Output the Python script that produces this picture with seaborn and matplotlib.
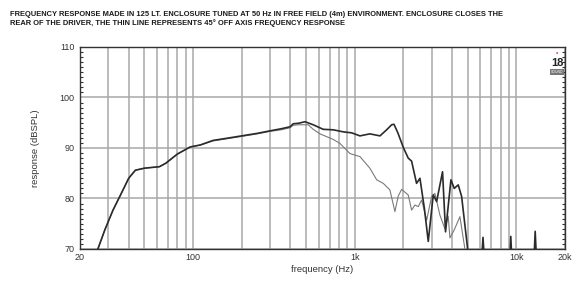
import numpy as np
import pandas as pd
import matplotlib
matplotlib.use("Agg")
import matplotlib.pyplot as plt
import seaborn as sns
from matplotlib.ticker import FixedLocator, MultipleLocator, NullFormatter

# ---- data ----
on_axis_freq = [24, 25.8, 28.5, 32, 36, 40, 44, 50, 62, 68, 80, 96, 111, 133, 160, 200, 250, 300,
                350, 398, 417, 450, 493, 554, 639, 737, 850, 958, 1078, 1242, 1434, 1576, 1694,
                1750, 1850, 2000, 2144, 2250, 2414, 2534, 2700, 2852, 3062, 3214, 3288, 3496,
                3648, 3940, 4130, 4372, 4588, 4998, 5200, 6000, 6220, 6450, 9000, 9240, 9500,
                12700, 13080, 13500, 20000]
on_axis_spl = [67, 70, 73.8, 77.7, 81.0, 84.0, 85.6, 86.0, 86.3, 87.0, 88.8, 90.2, 90.6, 91.5, 91.9,
               92.4, 92.9, 93.4, 93.8, 94.2, 94.8, 94.9, 95.2, 94.6, 93.7, 93.6, 93.2, 93.0, 92.4,
               92.8, 92.4, 93.6, 94.6, 94.7, 93.0, 90.1, 88.0, 87.4, 83.0, 84.0, 78.0, 71.5, 80.7,
               79.4, 81.0, 85.3, 73.4, 83.7, 82.0, 82.7, 80.4, 70.0, 64, 64, 72.3, 64, 64, 72.5, 64,
               64, 73.5, 64, 64]

off_axis_freq = [24, 25.8, 28.5, 32, 36, 40, 44, 50, 62, 68, 80, 96, 111, 133, 160, 200, 250, 300,
                 350, 398, 417, 450, 516, 554, 610, 737, 811, 935, 1078, 1242, 1368, 1502, 1652,
                 1774, 1860, 1952, 2144, 2250, 2358, 2474, 2596, 2788, 2992, 3136, 3368, 3616,
                 3790, 3884, 4130, 4478, 4808, 5000, 20000]
off_axis_spl = [67, 70, 73.8, 77.7, 81.0, 84.0, 85.6, 86.0, 86.3, 87.0, 88.8, 90.2, 90.6, 91.4, 91.8,
                92.3, 92.8, 93.3, 93.6, 94.0, 94.5, 94.6, 94.6, 93.7, 92.8, 91.7, 90.9, 88.9, 88.3,
                86.0, 83.7, 83.0, 81.7, 77.4, 80.5, 81.8, 80.7, 77.7, 78.7, 78.4, 79.7, 75.7, 80.4,
                81.0, 76.7, 74.0, 76.5, 72.2, 73.8, 76.4, 70.0, 64, 64]

x_ticks = [20, 100, 1000, 10000, 20000]
x_tick_labels = ["20", "100", "1k", "10k", "20k"]
y_ticks = [70, 80, 90, 100, 110]

title_text = ("FREQUENCY RESPONSE MADE IN 125 LT. ENCLOSURE TUNED AT 50 Hz IN FREE FIELD (4m) ENVIRONMENT. "
              "ENCLOSURE CLOSES THE\nREAR OF THE DRIVER, THE THIN LINE REPRESENTS 45° OFF AXIS FREQUENCY RESPONSE")

# ---- plot ----
sns.set_theme(style="white")
plt.rcParams["font.family"] = ["Liberation Sans", "DejaVu Sans"]

fig = plt.figure(figsize=(5.76, 2.82), dpi=100)
ax = fig.add_axes([80 / 576, 1 - 249 / 282, 485 / 576, 202 / 282])

on_df = pd.DataFrame({"freq": on_axis_freq, "spl": on_axis_spl})
off_df = pd.DataFrame({"freq": off_axis_freq, "spl": off_axis_spl})

sns.lineplot(data=off_df, x="freq", y="spl", ax=ax, color="#7a7a7a", lw=0.8, zorder=3)
sns.lineplot(data=on_df, x="freq", y="spl", ax=ax, color="#2b2b2b", lw=1.2, zorder=4)

ax.set_xscale("log")
ax.set_xlim(20, 20000)
ax.set_ylim(70, 110)

ax.xaxis.set_major_locator(FixedLocator(x_ticks))
ax.set_xticklabels(x_tick_labels)
minor_x = [m * d for d in (10, 100, 1000) for m in range(2, 10)]
minor_x = [v for v in minor_x if 20 < v < 20000 and v not in x_ticks]
ax.xaxis.set_minor_locator(FixedLocator(minor_x))
ax.xaxis.set_minor_formatter(NullFormatter())
ax.set_yticks(y_ticks)
ax.yaxis.set_minor_locator(MultipleLocator(1))

ax.grid(True, which="major", axis="both", color="#a8a8a8", lw=1.1)
ax.grid(True, which="minor", axis="x", color="#a8a8a8", lw=1.1)

ax.tick_params(axis="x", which="both", length=0, pad=3, labelsize=6.5, labelcolor="#333333")
ax.tick_params(axis="y", which="major", length=0, pad=4, labelsize=6.5, labelcolor="#333333")
ax.tick_params(axis="y", which="minor", length=2.5, width=0.8, direction="in",
               left=True, right=True, color="#333333")

for s in ax.spines.values():
    s.set_visible(True)
    s.set_color("#333333")
    s.set_linewidth(1.0)

ax.set_xlabel("frequency (Hz)", fontsize=6.8, color="#333333", labelpad=2)
ax.set_ylabel("response (dBSPL)", fontsize=6.8, color="#333333", labelpad=14)

fig.text(10 / 576, 1 - 11 / 282, title_text, fontsize=5.45, fontweight="bold",
         family=["Liberation Sans Narrow", "Liberation Sans", "DejaVu Sans"],
         color="#1a1a1a", va="top", ha="left", linespacing=1.2)

# logo
fig.text(557 / 576, 1 - 63 / 282, "18", fontsize=8, fontweight="bold", color="#222222",
         ha="center", va="center")
fig.text(557 / 576, 1 - 53 / 282, "•", fontsize=5, color="#e05050", ha="center", va="center")
fig.text(557 / 576, 1 - 72 / 282, "SOUND", fontsize=2.5, color="white", ha="center", va="center",
         bbox=dict(boxstyle="square,pad=0.2", fc="#777777", ec="none"))

fig.savefig("out.png", dpi=100)
